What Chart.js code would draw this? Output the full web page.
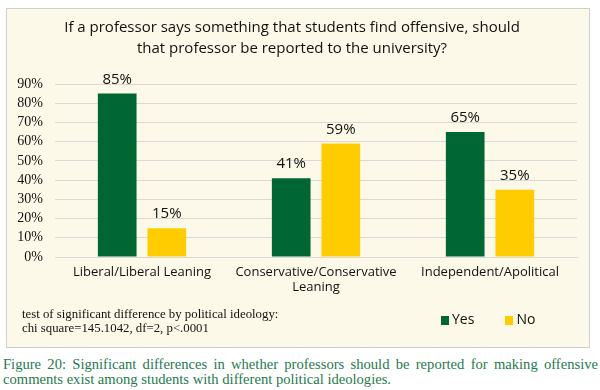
<!DOCTYPE html>
<html>
<head>
<meta charset="utf-8">
<script src="https://cdn.jsdelivr.net/npm/chart.js@4.4.0/dist/chart.umd.min.js"></script>
<style>
  body { margin: 0; background: #fff; width: 600px; height: 390px; position: relative; overflow: hidden; }
  #box { position: absolute; left: 6px; top: 8px; width: 584px; height: 340px; box-sizing: border-box;
         border: 1px solid #cfcfcf; background: #fdf9e9; }
  #chart { position: absolute; left: 0; top: 0; }
  #note { position: absolute; left: 15px; top: 298px; font: 12.8px "Liberation Serif", serif; line-height: 14px; color: #111; }
  #legend { position: absolute; left: 434px; top: 300px; font: 14px "Open Sans", sans-serif; color: #111; }
  #legend span.item { margin-right: 31px; }
  #legend i { display: inline-block; width: 8px; height: 9px; margin-right: 3px; vertical-align: -1px; }
  #caption { position: absolute; left: 3px; top: 357px; width: 595px; font: 14.6px "Liberation Serif", serif;
             line-height: 15px; color: #1f7a4d; text-align: justify; text-align-last: left; }
</style>
</head>
<body>
<div id="box">
  <canvas id="chart" width="582" height="338"></canvas>
  <div id="note">test of significant difference by political ideology:<br>chi square=145.1042, df=2, p&lt;.0001</div>
  <div id="legend"></div>
</div>
<div id="caption">Figure 20: Significant differences in whether professors should be reported for making offensive comments exist among students with different political ideologies.</div>
<script>
var titleLines = ['If a professor says something that students find offensive, should', 'that professor be reported to the university?'];
var categories = [['Liberal/Liberal Leaning'], ['Conservative/Conservative', 'Leaning'], ['Independent/Apolitical']];
var yesValues = [85, 41, 65];
var noValues = [15, 59, 35];
var seriesNames = ['Yes', 'No'];
var seriesColors = ['#006634', '#ffcc00'];

// legend in html
var legendHtml = '';
for (var i = 0; i < seriesNames.length; i++) {
    legendHtml += '<span class="item"><i style="background:' + seriesColors[i] + '"></i>' + seriesNames[i] + '</span>';
}
document.getElementById('legend').innerHTML = legendHtml;

var valueLabels = {
    id: 'valueLabels',
    afterDatasetsDraw: function(chart) {
        var ctx = chart.ctx;
        ctx.save();
        ctx.font = '500 15px "Open Sans", sans-serif';
        ctx.fillStyle = '#111';
        ctx.textAlign = 'center';
        ctx.textBaseline = 'alphabetic';
        chart.data.datasets.forEach(function(ds, di) {
            chart.getDatasetMeta(di).data.forEach(function(bar, j) {
                ctx.fillText(ds.data[j] + '%', bar.x, bar.y - 10);
            });
        });
        ctx.restore();
    }
};

new Chart(document.getElementById('chart').getContext('2d'), {
    type: 'bar',
    data: {
        labels: categories,
        datasets: [
            { label: seriesNames[0], data: yesValues, backgroundColor: seriesColors[0] },
            { label: seriesNames[1], data: noValues, backgroundColor: seriesColors[1] }
        ]
    },
    options: {
        responsive: false,
        animation: false,
        categoryPercentage: 0.57,
        barPercentage: 0.78,
        layout: { padding: { left: 0, right: 12, top: 0, bottom: 0 } },
        plugins: {
            legend: { display: false },
            tooltip: { enabled: false },
            title: {
                display: true,
                text: titleLines,
                color: '#111',
                font: { family: '"Open Sans", sans-serif', size: 15, weight: '500', lineHeight: 1.4 },
                padding: { top: 8, bottom: 25 }
            }
        },
        scales: {
            x: {
                grid: { display: false, drawTicks: false },
                border: { color: '#d9d9d9' },
                ticks: { color: '#111', padding: 7, maxRotation: 0, font: { family: '"Open Sans", sans-serif', size: 13, weight: '500', lineHeight: 1.2 } },
                afterFit: function(scale) { scale.height = 90; }
            },
            y: {
                min: 0, max: 90,
                grid: { color: '#d9d9d9', drawTicks: false },
                border: { display: false },
                ticks: {
                    stepSize: 10, padding: 12, color: '#111', autoSkip: false,
                    font: { family: '"Liberation Serif", serif', size: 14 },
                    callback: function(v) { return v + '%'; }
                },
                afterFit: function(scale) { scale.width = 48; }
            }
        }
    },
    plugins: [valueLabels]
});
</script>
</body>
</html>
